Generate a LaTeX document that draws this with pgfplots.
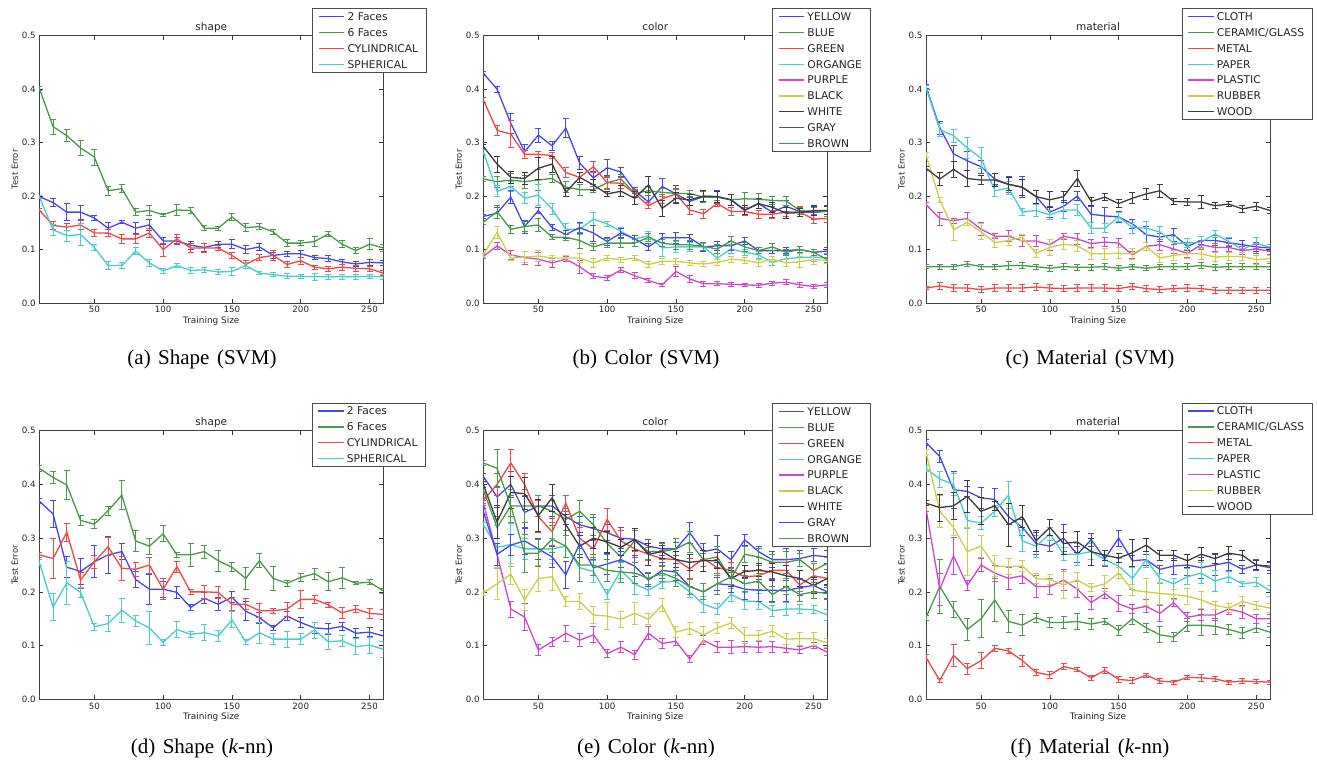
\documentclass[border=0pt]{standalone}
\usepackage{pgfplots}
\pgfplotsset{compat=1.18}
\usepackage{pgfplotstable}
\usepackage{fontspec}
\setmainfont{DejaVu Sans}
\newfontfamily\capfont{Liberation Serif}

\definecolor{cB}{RGB}{70,70,240}
\definecolor{cG}{RGB}{70,155,70}
\definecolor{cR}{RGB}{240,70,70}
\definecolor{cC}{RGB}{70,205,205}
\definecolor{cM}{RGB}{205,70,205}
\definecolor{cY}{RGB}{205,205,70}
\definecolor{cK}{RGB}{60,60,60}
\pgfplotsset{
  sB/.style={color=cB, draw=cB}, sG/.style={color=cG, draw=cG},
  sR/.style={color=cR, draw=cR}, sC/.style={color=cC, draw=cC},
  sM/.style={color=cM, draw=cM}, sY/.style={color=cY, draw=cY},
  sK/.style={color=cK, draw=cK}}

\pgfplotstableread{
x a ae b be c ce d de
10 0.199 0.003 0.402 0.004 0.174 0.003 0.199 0.003
20 0.188 0.007 0.330 0.014 0.145 0.008 0.137 0.010
30 0.170 0.016 0.313 0.011 0.142 0.007 0.126 0.010
40 0.170 0.013 0.290 0.014 0.146 0.008 0.128 0.020
50 0.159 0.005 0.273 0.015 0.131 0.006 0.104 0.005
60 0.140 0.010 0.210 0.008 0.131 0.006 0.070 0.007
70 0.151 0.003 0.214 0.007 0.120 0.009 0.070 0.006
80 0.140 0.010 0.170 0.007 0.120 0.009 0.097 0.007
90 0.146 0.010 0.173 0.009 0.131 0.008 0.075 0.007
100 0.116 0.006 0.165 0.003 0.100 0.012 0.060 0.004
110 0.116 0.006 0.174 0.010 0.120 0.008 0.070 0.004
120 0.108 0.007 0.173 0.006 0.103 0.009 0.061 0.005
130 0.104 0.008 0.140 0.005 0.103 0.008 0.062 0.005
140 0.110 0.006 0.140 0.004 0.103 0.005 0.058 0.005
150 0.110 0.008 0.161 0.007 0.089 0.005 0.059 0.008
160 0.100 0.007 0.141 0.007 0.072 0.008 0.070 0.006
170 0.105 0.006 0.143 0.006 0.085 0.005 0.056 0.003
180 0.089 0.005 0.133 0.005 0.089 0.010 0.053 0.004
190 0.092 0.005 0.112 0.006 0.072 0.005 0.050 0.005
200 0.092 0.006 0.112 0.005 0.079 0.006 0.050 0.004
210 0.085 0.004 0.115 0.010 0.067 0.004 0.049 0.006
220 0.083 0.006 0.129 0.005 0.064 0.005 0.049 0.005
230 0.077 0.005 0.110 0.007 0.067 0.006 0.049 0.005
240 0.073 0.005 0.098 0.005 0.065 0.006 0.049 0.005
250 0.076 0.005 0.110 0.010 0.064 0.005 0.050 0.004
260 0.075 0.004 0.103 0.006 0.056 0.005 0.049 0.005
}\tabA

\pgfplotstableread{
x a ae b be c ce d de e ee f fe g ge h he i ie
10 0.430 0.004 0.232 0.005 0.380 0.004 0.283 0.005 0.087 0.004 0.090 0.005 0.293 0.004 0.162 0.004 0.151 0.004
20 0.400 0.006 0.227 0.010 0.323 0.010 0.209 0.010 0.107 0.006 0.132 0.012 0.260 0.015 0.168 0.010 0.171 0.012
30 0.336 0.018 0.230 0.012 0.316 0.025 0.218 0.010 0.090 0.008 0.084 0.005 0.235 0.012 0.198 0.012 0.138 0.008
40 0.283 0.013 0.227 0.012 0.278 0.008 0.196 0.010 0.085 0.012 0.086 0.010 0.233 0.012 0.143 0.012 0.143 0.010
50 0.314 0.013 0.230 0.020 0.278 0.006 0.202 0.020 0.082 0.012 0.088 0.010 0.252 0.020 0.173 0.006 0.146 0.012
60 0.294 0.008 0.233 0.008 0.276 0.006 0.176 0.010 0.075 0.008 0.084 0.005 0.260 0.015 0.141 0.006 0.123 0.005
70 0.327 0.018 0.217 0.010 0.244 0.010 0.138 0.010 0.082 0.005 0.084 0.005 0.207 0.008 0.128 0.008 0.123 0.006
80 0.262 0.013 0.212 0.010 0.235 0.010 0.138 0.010 0.068 0.012 0.084 0.008 0.235 0.010 0.141 0.010 0.117 0.015
90 0.234 0.012 0.212 0.006 0.255 0.010 0.157 0.012 0.050 0.005 0.075 0.008 0.221 0.010 0.131 0.015 0.105 0.006
100 0.253 0.015 0.225 0.010 0.225 0.012 0.148 0.005 0.047 0.005 0.084 0.005 0.204 0.005 0.115 0.008 0.112 0.008
110 0.245 0.008 0.232 0.008 0.224 0.010 0.134 0.008 0.062 0.005 0.081 0.005 0.209 0.010 0.131 0.008 0.112 0.008
120 0.210 0.006 0.205 0.006 0.205 0.008 0.120 0.006 0.051 0.006 0.084 0.005 0.196 0.012 0.120 0.006 0.112 0.006
130 0.189 0.012 0.210 0.008 0.182 0.006 0.126 0.008 0.042 0.004 0.072 0.006 0.221 0.015 0.105 0.006 0.123 0.008
140 0.218 0.015 0.207 0.008 0.195 0.008 0.103 0.015 0.034 0.003 0.078 0.005 0.177 0.015 0.122 0.008 0.112 0.006
150 0.204 0.015 0.205 0.010 0.204 0.008 0.105 0.010 0.059 0.010 0.078 0.005 0.196 0.010 0.122 0.010 0.109 0.008
160 0.190 0.008 0.205 0.006 0.174 0.008 0.105 0.008 0.045 0.006 0.075 0.005 0.193 0.010 0.122 0.006 0.109 0.008
170 0.199 0.010 0.198 0.010 0.167 0.008 0.105 0.006 0.036 0.005 0.073 0.005 0.200 0.010 0.105 0.008 0.106 0.008
180 0.199 0.012 0.198 0.010 0.186 0.006 0.084 0.008 0.036 0.004 0.076 0.005 0.199 0.010 0.107 0.008 0.101 0.008
190 0.193 0.010 0.193 0.010 0.171 0.008 0.101 0.008 0.035 0.004 0.082 0.006 0.193 0.010 0.107 0.008 0.116 0.008
200 0.173 0.010 0.195 0.012 0.171 0.008 0.095 0.006 0.034 0.003 0.080 0.006 0.174 0.008 0.116 0.006 0.105 0.008
210 0.186 0.010 0.194 0.010 0.166 0.008 0.090 0.006 0.033 0.004 0.075 0.006 0.186 0.010 0.098 0.006 0.098 0.006
220 0.170 0.010 0.192 0.008 0.166 0.008 0.076 0.006 0.037 0.004 0.082 0.006 0.179 0.010 0.098 0.006 0.105 0.006
230 0.181 0.010 0.191 0.008 0.170 0.008 0.083 0.008 0.039 0.005 0.075 0.006 0.168 0.010 0.098 0.006 0.095 0.006
240 0.171 0.010 0.173 0.008 0.170 0.008 0.085 0.008 0.034 0.004 0.077 0.010 0.169 0.008 0.100 0.006 0.100 0.006
250 0.169 0.012 0.171 0.008 0.157 0.008 0.086 0.008 0.031 0.003 0.081 0.008 0.173 0.010 0.095 0.006 0.095 0.006
260 0.172 0.010 0.171 0.010 0.158 0.008 0.084 0.008 0.034 0.004 0.080 0.006 0.173 0.008 0.097 0.006 0.081 0.005
}\tabB

\pgfplotstableread{
x a ae b be c ce d de e ee f fe g ge
10 0.405 0.004 0.068 0.004 0.028 0.003 0.403 0.004 0.184 0.004 0.277 0.004 0.252 0.004
20 0.328 0.012 0.068 0.005 0.032 0.006 0.324 0.012 0.158 0.012 0.193 0.005 0.232 0.012
30 0.279 0.015 0.068 0.005 0.028 0.006 0.313 0.012 0.154 0.005 0.137 0.020 0.250 0.015
40 0.266 0.018 0.073 0.005 0.028 0.006 0.290 0.020 0.158 0.012 0.151 0.005 0.233 0.015
50 0.255 0.012 0.068 0.005 0.025 0.006 0.271 0.020 0.138 0.012 0.133 0.015 0.230 0.008
60 0.232 0.010 0.068 0.005 0.028 0.006 0.210 0.010 0.125 0.005 0.113 0.010 0.230 0.012
70 0.222 0.015 0.070 0.007 0.028 0.006 0.215 0.012 0.125 0.010 0.117 0.010 0.222 0.012
80 0.217 0.020 0.070 0.005 0.028 0.006 0.170 0.006 0.116 0.010 0.123 0.006 0.216 0.015
90 0.199 0.012 0.068 0.005 0.030 0.006 0.173 0.012 0.116 0.010 0.093 0.008 0.199 0.012
100 0.170 0.010 0.065 0.006 0.028 0.006 0.165 0.008 0.109 0.010 0.104 0.015 0.193 0.015
110 0.181 0.010 0.068 0.006 0.027 0.006 0.174 0.015 0.125 0.006 0.110 0.010 0.199 0.010
120 0.200 0.008 0.067 0.006 0.028 0.006 0.174 0.010 0.120 0.010 0.107 0.010 0.233 0.015
130 0.166 0.015 0.067 0.006 0.028 0.006 0.140 0.010 0.111 0.008 0.092 0.010 0.190 0.008
140 0.163 0.015 0.068 0.006 0.028 0.006 0.140 0.008 0.114 0.008 0.092 0.010 0.198 0.006
150 0.161 0.010 0.065 0.005 0.027 0.006 0.161 0.008 0.112 0.008 0.093 0.010 0.186 0.008
160 0.148 0.008 0.068 0.005 0.031 0.006 0.141 0.010 0.090 0.006 0.092 0.010 0.196 0.010
170 0.128 0.015 0.065 0.005 0.027 0.006 0.140 0.012 0.106 0.008 0.106 0.008 0.204 0.010
180 0.123 0.008 0.068 0.005 0.025 0.006 0.133 0.010 0.109 0.010 0.084 0.008 0.210 0.012
190 0.128 0.012 0.068 0.006 0.027 0.006 0.112 0.012 0.101 0.008 0.089 0.010 0.190 0.005
200 0.106 0.008 0.068 0.006 0.028 0.006 0.112 0.008 0.093 0.008 0.092 0.008 0.189 0.006
210 0.117 0.008 0.070 0.006 0.027 0.006 0.114 0.010 0.109 0.008 0.092 0.010 0.189 0.012
220 0.117 0.010 0.067 0.006 0.024 0.006 0.129 0.006 0.104 0.008 0.086 0.008 0.182 0.006
230 0.113 0.008 0.068 0.006 0.024 0.006 0.115 0.008 0.104 0.008 0.087 0.008 0.185 0.005
240 0.109 0.008 0.068 0.006 0.024 0.006 0.100 0.005 0.098 0.008 0.087 0.008 0.176 0.006
250 0.105 0.008 0.068 0.006 0.024 0.006 0.112 0.010 0.101 0.008 0.081 0.008 0.181 0.008
260 0.103 0.006 0.068 0.006 0.024 0.006 0.104 0.006 0.097 0.006 0.083 0.006 0.173 0.006
}\tabC

\pgfplotstableread{
x a ae b be c ce d de
10 0.369 0.005 0.430 0.005 0.269 0.005 0.255 0.005
20 0.345 0.025 0.413 0.012 0.262 0.037 0.172 0.025
30 0.246 0.020 0.399 0.027 0.311 0.017 0.217 0.040
40 0.238 0.025 0.333 0.010 0.222 0.015 0.199 0.010
50 0.256 0.030 0.326 0.008 0.256 0.012 0.135 0.006
60 0.269 0.035 0.351 0.008 0.284 0.017 0.141 0.015
70 0.275 0.015 0.380 0.027 0.244 0.022 0.166 0.022
80 0.223 0.015 0.295 0.020 0.242 0.013 0.146 0.010
90 0.205 0.028 0.285 0.015 0.250 0.015 0.133 0.030
100 0.205 0.015 0.308 0.015 0.205 0.020 0.106 0.005
110 0.199 0.012 0.269 0.005 0.247 0.010 0.130 0.015
120 0.171 0.005 0.269 0.022 0.200 0.005 0.121 0.005
130 0.188 0.010 0.275 0.012 0.200 0.012 0.124 0.015
140 0.177 0.012 0.258 0.020 0.199 0.012 0.118 0.010
150 0.190 0.010 0.246 0.008 0.177 0.012 0.148 0.015
160 0.164 0.018 0.225 0.020 0.177 0.010 0.107 0.005
170 0.152 0.010 0.258 0.013 0.165 0.013 0.124 0.020
180 0.133 0.005 0.225 0.022 0.165 0.005 0.112 0.010
190 0.155 0.008 0.216 0.005 0.168 0.013 0.112 0.015
200 0.143 0.010 0.227 0.008 0.186 0.017 0.112 0.010
210 0.133 0.010 0.234 0.010 0.186 0.008 0.129 0.015
220 0.131 0.010 0.219 0.017 0.176 0.005 0.107 0.015
230 0.136 0.008 0.226 0.020 0.161 0.010 0.109 0.010
240 0.123 0.008 0.216 0.003 0.168 0.007 0.098 0.015
250 0.125 0.008 0.218 0.005 0.160 0.010 0.101 0.015
260 0.118 0.010 0.202 0.005 0.158 0.010 0.093 0.015
}\tabD

\pgfplotsset{
  mpl/.style={
    scale only axis, width=344pt, anchor=south west,
    xmin=10, xmax=260, ymin=0, ymax=0.5,
    xtick={50,100,150,200,250}, ytick={0,0.1,0.2,0.3,0.4,0.5},
    yticklabel style={/pgf/number format/.cd, fixed, fixed zerofill, precision=1},
    /pgf/number format/assume math mode=true,
    tick align=inside, major tick length=4pt,
    every tick/.style={black!80, line width=0.6pt},
    axis line style={black!75, line width=0.8pt},
    tick label style={font=\fontsize{8.7}{10}\selectfont, text=black!85},
    xlabel={Training Size}, ylabel={Test Error},
    xlabel style={at={(axis description cs:0.5,-0.0505)}, anchor=north, inner sep=0pt, font=\fontsize{8.9}{10}\selectfont, text=black!85},
    ylabel style={at={(axis description cs:-0.0616,0.5)}, anchor=south, inner sep=0pt, font=\fontsize{8.4}{10}\selectfont, text=black!85},
    title style={at={(axis description cs:0.5,0.996)}, anchor=base, inner sep=0pt, font=\fontsize{10.5}{12}\selectfont, text=black!85},
    legend cell align=left,
    legend image code/.code={\draw[##1] (0pt,0pt) -- (17pt,0pt); \path (0pt,0pt) -- (25.5pt,0pt);},
    legend style={anchor=north west, draw=black!70, line width=0.8pt, fill=white, font=\fontsize{10.7}{12}\selectfont, text=black!85, inner xsep=5.5pt, inner ysep=2.93pt, row sep=5.86pt, nodes={inner xsep=2.5pt, inner ysep=0pt, text height=8.8pt, text depth=1.2pt}},
    every axis plot/.append style={line width=1.3pt, mark=none},
    error bars/y dir=both, error bars/y explicit,
    error bars/error bar style={line width=0.9pt},
    error bars/error mark options={line width=0.9pt, mark size=3pt, rotate=90},
  }
}

\begin{document}
\begin{tikzpicture}
\useasboundingbox (0,0) rectangle (1317pt,-766pt);

% (a)
\begin{axis}[mpl, at={(39.3pt,-303pt)}, height=267.3pt, title={shape},
  legend style={at={(axis description cs:0.794,1.1025)}}]
\addplot[sB] table[x=x,y=a,y error=ae]{\tabA};
\addplot[sG] table[x=x,y=b,y error=be]{\tabA};
\addplot[sR] table[x=x,y=c,y error=ce]{\tabA};
\addplot[sC] table[x=x,y=d,y error=de]{\tabA};
\legend{2 Faces,6 Faces,CYLINDRICAL,SPHERICAL}
\end{axis}

% (b)
\begin{axis}[mpl, at={(483.3pt,-303pt)}, height=267.3pt, title={color},
  legend style={at={(axis description cs:0.840,1.1025)}}]
\addplot[sB] table[x=x,y=a,y error=ae]{\tabB};
\addplot[sG] table[x=x,y=b,y error=be]{\tabB};
\addplot[sR] table[x=x,y=c,y error=ce]{\tabB};
\addplot[sC] table[x=x,y=d,y error=de]{\tabB};
\addplot[sM] table[x=x,y=e,y error=ee]{\tabB};
\addplot[sY] table[x=x,y=f,y error=fe]{\tabB};
\addplot[sK] table[x=x,y=g,y error=ge]{\tabB};
\addplot[sB] table[x=x,y=h,y error=he]{\tabB};
\addplot[sG] table[x=x,y=i,y error=ie]{\tabB};
\legend{YELLOW,BLUE,GREEN,ORGANGE,PURPLE,BLACK,WHITE,GRAY,BROWN}
\end{axis}

% (c)
\begin{axis}[mpl, at={(926pt,-303pt)}, height=267.3pt, title={material},
  legend style={at={(axis description cs:0.743,1.1025)}}]
\addplot[sB] table[x=x,y=a,y error=ae]{\tabC};
\addplot[sG] table[x=x,y=b,y error=be]{\tabC};
\addplot[sR] table[x=x,y=c,y error=ce]{\tabC};
\addplot[sC] table[x=x,y=d,y error=de]{\tabC};
\addplot[sM] table[x=x,y=e,y error=ee]{\tabC};
\addplot[sY] table[x=x,y=f,y error=fe]{\tabC};
\addplot[sK] table[x=x,y=g,y error=ge]{\tabC};
\legend{CLOTH,CERAMIC/GLASS,METAL,PAPER,PLASTIC,RUBBER,WOOD}
\end{axis}

% (d)
\begin{axis}[mpl, at={(39.3pt,-699.3pt)}, height=268.6pt, title={shape},
  legend style={at={(axis description cs:0.792,1.104)}}]
\addplot[sB] table[x=x,y=a,y error=ae]{\tabD};
\addplot[sG] table[x=x,y=b,y error=be]{\tabD};
\addplot[sR] table[x=x,y=c,y error=ce]{\tabD};
\addplot[sC] table[x=x,y=d,y error=de]{\tabD};
\legend{2 Faces,6 Faces,CYLINDRICAL,SPHERICAL}
\end{axis}

% (e)
\begin{axis}[mpl, at={(483.3pt,-699.3pt)}, height=268.6pt, title={color},
  legend style={at={(axis description cs:0.840,1.102)}}]
\addplot[sB] table[row sep=\\,x=x,y=y,y error=e]{x y e\\10 0.415 0.005\\20 0.377 0.02\\30 0.400 0.025\\40 0.348 0.03\\50 0.360 0.02\\60 0.360 0.02\\70 0.340 0.015\\80 0.325 0.015\\90 0.318 0.02\\100 0.310 0.015\\110 0.300 0.02\\120 0.298 0.02\\130 0.285 0.012\\140 0.280 0.012\\150 0.280 0.012\\160 0.310 0.02\\170 0.275 0.015\\180 0.280 0.025\\190 0.260 0.015\\200 0.297 0.01\\210 0.275 0.01\\220 0.260 0.015\\230 0.260 0.02\\240 0.262 0.015\\250 0.268 0.012\\260 0.265 0.012\\};
\addplot[sG] table[row sep=\\,x=x,y=y,y error=e]{x y e\\10 0.390 0.005\\20 0.320 0.02\\30 0.360 0.03\\40 0.360 0.03\\50 0.360 0.02\\60 0.350 0.02\\70 0.335 0.02\\80 0.350 0.02\\90 0.325 0.02\\100 0.290 0.02\\110 0.265 0.02\\120 0.295 0.02\\130 0.275 0.015\\140 0.275 0.015\\150 0.280 0.02\\160 0.293 0.02\\170 0.260 0.012\\180 0.265 0.02\\190 0.225 0.012\\200 0.270 0.015\\210 0.265 0.015\\220 0.255 0.015\\230 0.255 0.02\\240 0.260 0.012\\250 0.240 0.012\\260 0.253 0.012\\};
\addplot[sR] table[row sep=\\,x=x,y=y,y error=e]{x y e\\10 0.370 0.005\\20 0.400 0.02\\30 0.440 0.025\\40 0.400 0.02\\50 0.340 0.03\\60 0.312 0.025\\70 0.365 0.015\\80 0.300 0.02\\90 0.280 0.015\\100 0.335 0.02\\110 0.295 0.02\\120 0.280 0.015\\130 0.270 0.012\\140 0.262 0.015\\150 0.260 0.015\\160 0.243 0.02\\170 0.262 0.015\\180 0.245 0.015\\190 0.240 0.015\\200 0.228 0.012\\210 0.230 0.012\\220 0.240 0.015\\230 0.240 0.015\\240 0.213 0.012\\250 0.230 0.012\\260 0.225 0.012\\};
\addplot[sC] table[row sep=\\,x=x,y=y,y error=e]{x y e\\10 0.325 0.005\\20 0.283 0.04\\30 0.288 0.04\\40 0.280 0.02\\50 0.280 0.02\\60 0.280 0.02\\70 0.285 0.02\\80 0.245 0.025\\90 0.238 0.02\\100 0.195 0.01\\110 0.240 0.015\\120 0.215 0.02\\130 0.203 0.01\\140 0.218 0.012\\150 0.220 0.01\\160 0.200 0.01\\170 0.177 0.015\\180 0.168 0.01\\190 0.195 0.012\\200 0.183 0.015\\210 0.182 0.015\\220 0.165 0.01\\230 0.168 0.012\\240 0.168 0.008\\250 0.167 0.008\\260 0.157 0.01\\};
\addplot[sM] table[row sep=\\,x=x,y=y,y error=e]{x y e\\10 0.365 0.005\\20 0.270 0.02\\30 0.168 0.015\\40 0.153 0.025\\50 0.092 0.01\\60 0.107 0.008\\70 0.123 0.015\\80 0.110 0.012\\90 0.120 0.015\\100 0.085 0.008\\110 0.097 0.01\\120 0.083 0.008\\130 0.123 0.012\\140 0.104 0.01\\150 0.108 0.008\\160 0.075 0.006\\170 0.110 0.008\\180 0.097 0.01\\190 0.097 0.012\\200 0.098 0.01\\210 0.097 0.01\\220 0.098 0.01\\230 0.095 0.008\\240 0.092 0.006\\250 0.100 0.006\\260 0.088 0.006\\};
\addplot[sY] table[row sep=\\,x=x,y=y,y error=e]{x y e\\10 0.198 0.005\\20 0.215 0.03\\30 0.233 0.02\\40 0.185 0.02\\50 0.225 0.025\\60 0.228 0.025\\70 0.182 0.01\\80 0.182 0.015\\90 0.157 0.015\\100 0.155 0.025\\110 0.149 0.015\\120 0.160 0.02\\130 0.149 0.01\\140 0.175 0.012\\150 0.125 0.01\\160 0.132 0.012\\170 0.120 0.015\\180 0.133 0.01\\190 0.142 0.01\\200 0.119 0.015\\210 0.119 0.01\\220 0.127 0.01\\230 0.112 0.01\\240 0.113 0.012\\250 0.113 0.012\\260 0.105 0.008\\};
\addplot[sK] table[row sep=\\,x=x,y=y,y error=e]{x y e\\10 0.400 0.005\\20 0.330 0.03\\30 0.385 0.03\\40 0.383 0.03\\50 0.342 0.03\\60 0.375 0.025\\70 0.325 0.02\\80 0.285 0.02\\90 0.300 0.02\\100 0.293 0.02\\110 0.283 0.015\\120 0.298 0.02\\130 0.270 0.02\\140 0.275 0.012\\150 0.260 0.015\\160 0.255 0.015\\170 0.258 0.02\\180 0.258 0.015\\190 0.225 0.015\\200 0.238 0.012\\210 0.240 0.012\\220 0.237 0.015\\230 0.230 0.02\\240 0.225 0.015\\250 0.212 0.015\\260 0.225 0.012\\};
\addplot[sB] table[row sep=\\,x=x,y=y,y error=e]{x y e\\10 0.350 0.005\\20 0.270 0.02\\30 0.287 0.02\\40 0.295 0.025\\50 0.280 0.02\\60 0.265 0.02\\70 0.232 0.025\\80 0.290 0.02\\90 0.245 0.015\\100 0.252 0.02\\110 0.260 0.015\\120 0.248 0.02\\130 0.222 0.012\\140 0.240 0.015\\150 0.237 0.015\\160 0.210 0.015\\170 0.200 0.015\\180 0.215 0.012\\190 0.213 0.015\\200 0.205 0.02\\210 0.203 0.02\\220 0.203 0.02\\230 0.202 0.02\\240 0.208 0.015\\250 0.212 0.012\\260 0.200 0.012\\};
\addplot[sG] table[row sep=\\,x=x,y=y,y error=e]{x y e\\10 0.440 0.005\\20 0.430 0.035\\30 0.360 0.02\\40 0.272 0.035\\50 0.272 0.025\\60 0.298 0.025\\70 0.285 0.02\\80 0.250 0.03\\90 0.250 0.02\\100 0.240 0.02\\110 0.237 0.02\\120 0.235 0.02\\130 0.225 0.012\\140 0.235 0.015\\150 0.225 0.015\\160 0.210 0.015\\170 0.200 0.015\\180 0.215 0.02\\190 0.228 0.015\\200 0.215 0.015\\210 0.220 0.015\\220 0.195 0.015\\230 0.210 0.015\\240 0.195 0.012\\250 0.200 0.012\\260 0.197 0.012\\};
\legend{YELLOW,BLUE,GREEN,ORGANGE,PURPLE,BLACK,WHITE,GRAY,BROWN}
\end{axis}

% (f)
\begin{axis}[mpl, at={(926pt,-699.3pt)}, height=268.6pt, title={material},
  legend style={at={(axis description cs:0.743,1.104)}}]
\addplot[sB] table[row sep=\\,x=x,y=y,y error=e]{x y e\\10 0.478 0.005\\20 0.452 0.012\\30 0.390 0.035\\40 0.387 0.01\\50 0.375 0.02\\60 0.372 0.02\\70 0.340 0.015\\80 0.320 0.015\\90 0.290 0.02\\100 0.285 0.01\\110 0.300 0.025\\120 0.270 0.015\\130 0.297 0.012\\140 0.262 0.015\\150 0.300 0.015\\160 0.258 0.01\\170 0.260 0.01\\180 0.242 0.008\\190 0.248 0.015\\200 0.250 0.02\\210 0.245 0.02\\220 0.250 0.02\\230 0.255 0.015\\240 0.242 0.008\\250 0.250 0.01\\260 0.245 0.01\\};
\addplot[sG] table[row sep=\\,x=x,y=y,y error=e]{x y e\\10 0.152 0.005\\20 0.210 0.05\\30 0.168 0.015\\40 0.130 0.02\\50 0.150 0.035\\60 0.185 0.04\\70 0.145 0.02\\80 0.138 0.02\\90 0.152 0.008\\100 0.143 0.01\\110 0.143 0.012\\120 0.145 0.015\\130 0.140 0.01\\140 0.145 0.005\\150 0.128 0.01\\160 0.150 0.01\\170 0.133 0.008\\180 0.120 0.015\\190 0.116 0.008\\200 0.138 0.012\\210 0.138 0.02\\220 0.136 0.015\\230 0.130 0.01\\240 0.123 0.01\\250 0.133 0.008\\260 0.125 0.01\\};
\addplot[sR] table[row sep=\\,x=x,y=y,y error=e]{x y e\\10 0.078 0.005\\20 0.035 0.004\\30 0.082 0.02\\40 0.057 0.01\\50 0.072 0.015\\60 0.095 0.006\\70 0.090 0.004\\80 0.072 0.01\\90 0.050 0.006\\100 0.045 0.006\\110 0.061 0.006\\120 0.055 0.004\\130 0.040 0.004\\140 0.054 0.006\\150 0.037 0.006\\160 0.035 0.006\\170 0.045 0.004\\180 0.034 0.004\\190 0.032 0.004\\200 0.041 0.004\\210 0.040 0.006\\220 0.038 0.004\\230 0.032 0.004\\240 0.034 0.004\\250 0.033 0.004\\260 0.032 0.004\\};
\addplot[sC] table[row sep=\\,x=x,y=y,y error=e]{x y e\\10 0.430 0.005\\20 0.410 0.015\\30 0.400 0.02\\40 0.333 0.015\\50 0.328 0.012\\60 0.350 0.01\\70 0.380 0.025\\80 0.295 0.02\\90 0.285 0.02\\100 0.308 0.012\\110 0.270 0.012\\120 0.270 0.02\\130 0.275 0.015\\140 0.260 0.01\\150 0.248 0.015\\160 0.225 0.02\\170 0.260 0.015\\180 0.225 0.01\\190 0.215 0.01\\200 0.228 0.015\\210 0.235 0.02\\220 0.220 0.02\\230 0.228 0.01\\240 0.215 0.005\\250 0.218 0.008\\260 0.202 0.01\\};
\addplot[sM] table[row sep=\\,x=x,y=y,y error=e]{x y e\\10 0.355 0.005\\20 0.205 0.03\\30 0.267 0.035\\40 0.212 0.01\\50 0.250 0.012\\60 0.235 0.015\\70 0.225 0.02\\80 0.230 0.015\\90 0.210 0.02\\100 0.210 0.015\\110 0.222 0.02\\120 0.205 0.015\\130 0.180 0.012\\140 0.197 0.01\\150 0.178 0.015\\160 0.168 0.008\\170 0.173 0.012\\180 0.160 0.015\\190 0.180 0.008\\200 0.153 0.008\\210 0.157 0.01\\220 0.157 0.01\\230 0.168 0.01\\240 0.162 0.012\\250 0.150 0.008\\260 0.150 0.008\\};
\addplot[sY] table[row sep=\\,x=x,y=y,y error=e]{x y e\\10 0.460 0.005\\20 0.350 0.03\\30 0.320 0.015\\40 0.275 0.045\\50 0.285 0.02\\60 0.248 0.02\\70 0.247 0.015\\80 0.248 0.01\\90 0.225 0.01\\100 0.223 0.01\\110 0.213 0.025\\120 0.222 0.015\\130 0.208 0.008\\140 0.215 0.015\\150 0.235 0.01\\160 0.203 0.01\\170 0.200 0.025\\180 0.197 0.02\\190 0.195 0.01\\200 0.192 0.015\\210 0.185 0.015\\220 0.175 0.008\\230 0.170 0.008\\240 0.182 0.01\\250 0.175 0.008\\260 0.170 0.008\\};
\addplot[sK] table[row sep=\\,x=x,y=y,y error=e]{x y e\\10 0.365 0.005\\20 0.357 0.025\\30 0.360 0.025\\40 0.378 0.03\\50 0.350 0.025\\60 0.360 0.008\\70 0.325 0.04\\80 0.340 0.02\\90 0.295 0.02\\100 0.320 0.015\\110 0.290 0.02\\120 0.293 0.02\\130 0.275 0.025\\140 0.268 0.01\\150 0.263 0.008\\160 0.273 0.025\\170 0.287 0.012\\180 0.268 0.01\\190 0.268 0.01\\200 0.258 0.012\\210 0.270 0.012\\220 0.262 0.01\\230 0.272 0.012\\240 0.268 0.01\\250 0.250 0.008\\260 0.248 0.008\\};
\legend{CLOTH,CERAMIC/GLASS,METAL,PAPER,PLASTIC,RUBBER,WOOD}
\end{axis}

\tikzset{captxt/.style={anchor=base, font=\capfont\fontsize{21}{25}\selectfont}}
\node[captxt] at (202pt,-364pt) {\spaceskip=7.5pt (a) Shape (SVM)};
\node[captxt] at (646pt,-364pt) {\spaceskip=7.5pt (b) Color (SVM)};
\node[captxt] at (1090pt,-364pt) {\spaceskip=7.5pt (c) Material (SVM)};
\node[captxt] at (202pt,-753pt) {\spaceskip=7.5pt (d) Shape (\textit{k}-nn)};
\node[captxt] at (646pt,-753pt) {\spaceskip=7.5pt (e) Color (\textit{k}-nn)};
\node[captxt] at (1090pt,-753pt) {\spaceskip=7.5pt (f) Material (\textit{k}-nn)};
\end{tikzpicture}
\end{document}
